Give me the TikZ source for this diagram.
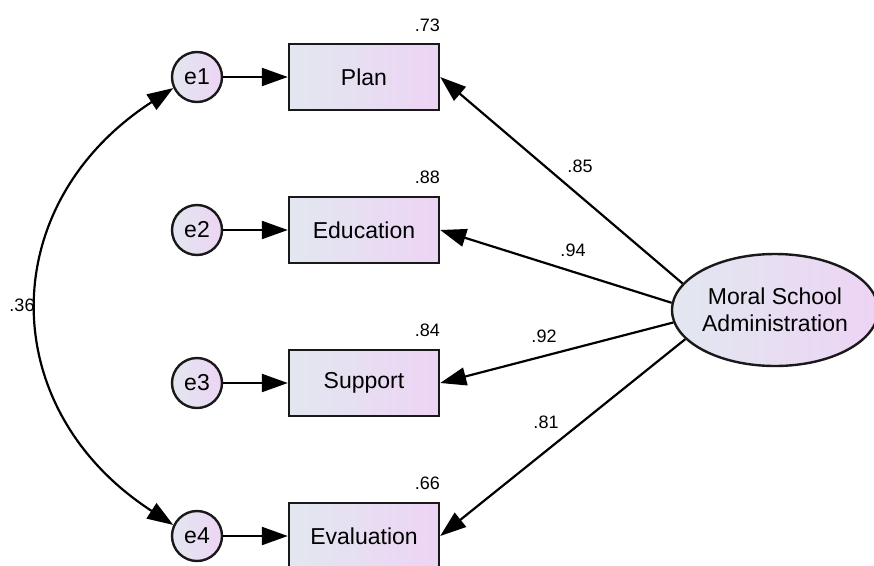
\documentclass[tikz,border=0pt]{standalone}
\usepackage{fontspec}
\setmainfont{Liberation Sans}
\usetikzlibrary{arrows.meta, shapes.geometric}
\definecolor{fillleft}{RGB}{226,231,240}
\definecolor{fillright}{RGB}{237,212,244}
\definecolor{edge}{RGB}{25,25,25}
\begin{document}
\begin{tikzpicture}[x = 1pt, y = -1pt,
    observed/.style = {draw = edge, line width = 2.4pt, left color = fillleft, right color = fillright,
      minimum width = 150pt, minimum height = 66pt, inner sep = 0, font = \fontsize{23}{25}\selectfont},
    error/.style = {circle, draw = edge, line width = 2.4pt, left color = fillleft, right color = fillright,
      minimum size = 50pt, inner sep = 0, font = \fontsize{23}{25}\selectfont},
    latent/.style = {ellipse, draw = edge, line width = 2.4pt, left color = fillleft, right color = fillright,
      minimum width = 195pt, minimum height = 112pt, inner sep = 0, align = center,
      font = \fontsize{23}{27}\selectfont},
    path/.style = {line width = 2.2pt, -{Triangle[length = 26pt, width = 18pt]}},
    coef/.style = {font = \fontsize{18}{20}\selectfont, inner sep = 0}
  ]
  \useasboundingbox (0, 0) rectangle (874, 565);
  % indicators
  \node [observed] (plan) at (364, 77) {Plan};
  \node [observed] (edu) at (364, 230) {Education};
  \node [observed] (sup) at (364, 383) {Support};
  \node [observed] (eval) at (364, 536) {Evaluation};
  % errors
  \node [error] (e1) at (197, 77) {e1};
  \node [error] (e2) at (197, 230) {e2};
  \node [error] (e3) at (197, 383) {e3};
  \node [error] (e4) at (197, 536) {e4};
  % factor
  \node [latent] (msa) at (775, 310) {Moral School\\Administration};
  \draw [path] (e1) -- (plan);
  \draw [path] (e2) -- (edu);
  \draw [path] (e3) -- (sup);
  \draw [path] (e4) -- (eval);
  \draw [path] (msa.164) -- (plan.east);
  \draw [path] (msa.176) -- (edu.east);
  \draw [path] (msa.187) -- (sup.east);
  \draw [path] (msa.198) -- (eval.east);
  \draw [path, {Triangle[length = 26pt, width = 18pt]}-{Triangle[length = 26pt, width = 18pt]}]
    (e1.205) .. controls +(-179, 116) and +(-179, -116) .. (e4.155);
  % estimates
  \node [coef, anchor = base east] (r1) at ([yshift = 11pt] plan.north east) {.73};
  \node [coef, anchor = base east] (r2) at ([yshift = 12pt] edu.north east) {.88};
  \node [coef, anchor = base east] (r3) at ([yshift = 12pt] sup.north east) {.84};
  \node [coef, anchor = base east] (r4) at ([yshift = 12pt] eval.north east) {.66};
  \node [coef] (l1) at (580, 166) {.85};
  \node [coef] (l2) at (573, 250) {.94};
  \node [coef] (l3) at (544, 336) {.92};
  \node [coef] (l4) at (546, 422) {.81};
  \node [coef] (c14) at (22, 305) {.36};
\end{tikzpicture}
\end{document}
